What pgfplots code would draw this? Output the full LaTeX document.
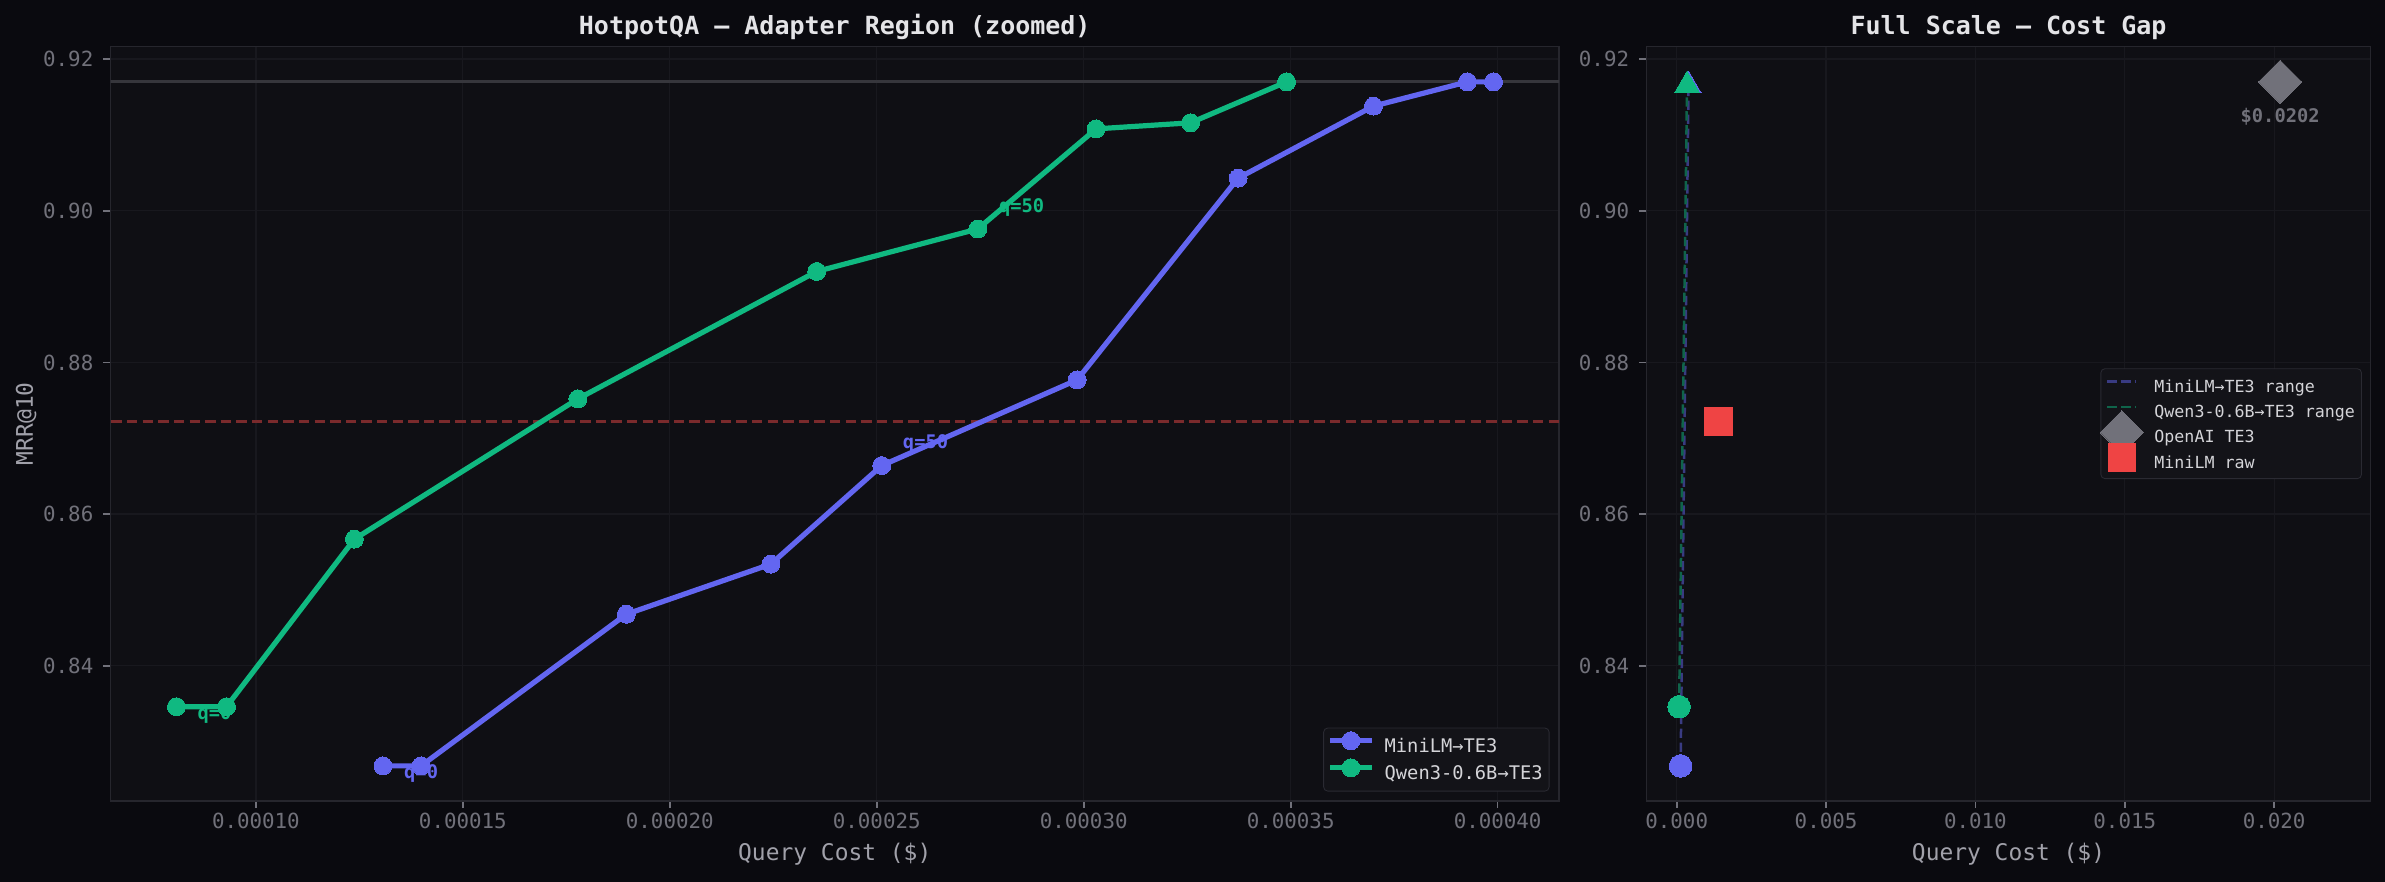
\documentclass[border=0pt]{standalone}
\usepackage{pgfplots}
\pgfplotsset{compat=1.18}
\usepackage{fontspec}
\setmainfont{DejaVu Sans Mono}
\definecolor{figbg}{HTML}{0A0A0F}
\definecolor{axbg}{HTML}{0F0F14}
\definecolor{gridc}{HTML}{18181E}
\definecolor{spine}{HTML}{26262D}
\definecolor{tickc}{HTML}{71717A}
\definecolor{labc}{HTML}{A1A1AA}
\definecolor{titc}{HTML}{E4E4E7}
\definecolor{indigo}{HTML}{6366F1}
\definecolor{emerald}{HTML}{10B981}
\definecolor{redc}{HTML}{EF4444}
\definecolor{grayd}{HTML}{71717A}
\definecolor{refline}{HTML}{36363C}
\definecolor{redline}{HTML}{7A2A2C}
\definecolor{indigodim}{HTML}{393B82}
\definecolor{emeralddim}{HTML}{0F644A}
\definecolor{legfill}{HTML}{131318}
\definecolor{legdraw}{HTML}{2A2A32}
\definecolor{legtext}{HTML}{D4D4D8}

\pgfplotsset{
  every axis title shift=0pt,
  darkax/.style={
    scale only axis,
    height=362.2pt,
    anchor=south west,
    ymin=0.82218, ymax=0.92167,
    ytick={0.84,0.86,0.88,0.90,0.92},
    yticklabel style={/pgf/number format/fixed, /pgf/number format/fixed zerofill, /pgf/number format/precision=2},
    scaled x ticks=false, scaled y ticks=false,
    axis background/.style={fill=axbg},
    axis line style={spine, line width=0.8pt},
    tick align=outside,
    xtick pos=bottom, ytick pos=left,
    major tick length=3.5pt,
    tick style={tickc, line width=0.8pt},
    grid=major,
    major grid style={gridc, line width=0.6pt},
    tick label style={font=\fontsize{10}{12}\selectfont, text=tickc},
    /pgf/number format/assume math mode=true,
    xticklabel style={anchor=north, inner sep=0pt, yshift=-2.1pt},
    yticklabel style={anchor=east, inner sep=0pt, xshift=-4.6pt},
    title style={font=\bfseries\fontsize{12}{14}\selectfont, text=titc, at={(0.5,1)}, anchor=base, yshift=5.6pt},
    label style={font=\fontsize{11}{13}\selectfont, text=labc},
    xlabel style={at={(0.5,-0.0704)}, anchor=center},
    legend cell align=left,
  },
}

\begin{document}
\begin{tikzpicture}
\fill[figbg] (0,0) rectangle (1145pt,423.4pt);

% ---------------- left axis ----------------
\begin{axis}[darkax,
  at={(53.1pt,38.9pt)}, width=695.3pt,
  xmin=0.0000649, xmax=0.0004148,
  xtick={0.0001,0.00015,0.0002,0.00025,0.0003,0.00035,0.0004},
  xticklabel style={/pgf/number format/fixed, /pgf/number format/fixed zerofill, /pgf/number format/precision=5},
  title={HotpotQA — Adapter Region (zoomed)},
  xlabel={Query Cost (\$)},
  ylabel={MRR@10},
  ylabel style={at={(-0.0584,0.5)}, anchor=center},
  legend image code/.code={%
    \path[draw=none, fill=none] (0pt,-1pt) rectangle (20pt,6pt);
    \draw[overlay, mark repeat=2, mark phase=2, #1] plot coordinates {(0pt,3.3pt) (10pt,3.3pt) (20pt,3.3pt)};
  },
  legend style={at={(1,0)}, anchor=south east, xshift=-4.5pt, yshift=4.5pt,
    fill=legfill, draw=legdraw, rounded corners=2pt, text=legtext,
    font=\fontsize{9}{10}\selectfont, inner xsep=3.1pt, inner ysep=3.4pt, row sep=2.5pt,
    nodes={inner sep=0pt, text height=6.8pt, text depth=2.2pt},
    /tikz/every odd column/.append style={column sep=6.2pt}},
]
\addplot[refline, line width=1.5pt, forget plot] coordinates {(0.00005,0.917) (0.00045,0.917)};
\addplot[redline, line width=1.2pt, dash pattern=on 5pt off 2.5pt, forget plot] coordinates {(0.00005,0.8722) (0.00045,0.8722)};

\node[anchor=base west, inner sep=0pt, xshift=10pt, yshift=-6pt, text=emerald, font=\bfseries\fontsize{9}{10}\selectfont] at (axis cs:0.0000808,0.8346) {q=0};
\node[anchor=base west, inner sep=0pt, xshift=10pt, yshift=-6pt, text=indigo, font=\bfseries\fontsize{9}{10}\selectfont] at (axis cs:0.0001307,0.8268) {q=0};
\node[anchor=base west, inner sep=0pt, xshift=10pt, yshift=8pt, text=emerald, font=\bfseries\fontsize{9}{10}\selectfont] at (axis cs:0.0002744,0.8976) {q=50};
\node[anchor=base west, inner sep=0pt, xshift=10pt, yshift=8pt, text=indigo, font=\bfseries\fontsize{9}{10}\selectfont] at (axis cs:0.0002512,0.8664) {q=50};

\addplot[indigo, line width=2.5pt, mark=*, mark size=4.3pt, mark options={solid, line width=0pt, fill=indigo, draw=indigo}] coordinates {
(0.0001307,0.8268) (0.0001399,0.8268) (0.0001895,0.8468) (0.0002244,0.8534) (0.0002512,0.8664)
(0.0002984,0.8777) (0.0003373,0.9043) (0.0003700,0.9138) (0.0003927,0.9170) (0.0003990,0.9170)};
\addlegendentry{MiniLM→TE3}
\addplot[emerald, line width=2.5pt, mark=*, mark size=4.3pt, mark options={solid, line width=0pt, fill=emerald, draw=emerald}] coordinates {
(0.0000808,0.8346) (0.0000929,0.8346) (0.0001238,0.8567) (0.0001778,0.8752) (0.0002355,0.8920)
(0.0002744,0.8976) (0.0003030,0.9108) (0.0003258,0.9116) (0.0003490,0.9170)};
\addlegendentry{Qwen3-0.6B→TE3}
\end{axis}

% ---------------- right axis ----------------
\begin{axis}[darkax,
  at={(790.4pt,38.9pt)}, width=347.7pt,
  xmin=-0.001014, xmax=0.02323,
  xtick={0,0.005,0.01,0.015,0.02},
  xticklabel style={/pgf/number format/fixed, /pgf/number format/fixed zerofill, /pgf/number format/precision=3},
  title={Full Scale — Cost Gap},
  xlabel={Query Cost (\$)},
  legend image code/.code={%
    \path[draw=none, fill=none] (0pt,-1pt) rectangle (14pt,6pt);
    \draw[overlay, mark repeat=2, mark phase=2, #1] plot coordinates {(0pt,2.9pt) (7pt,2.9pt) (14pt,2.9pt)};
  },
  legend style={at={(1,0.5)}, anchor=east, xshift=-4.2pt,
    fill=legfill, draw=legdraw, rounded corners=2pt, text=legtext,
    font=\fontsize{8}{9}\selectfont, inner xsep=3.1pt, inner ysep=3.1pt, row sep=2.2pt,
    nodes={inner sep=0pt, text height=6.1pt, text depth=1.9pt},
    /tikz/every odd column/.append style={column sep=8.6pt}},
]
\addplot[indigodim, line width=1.2pt, dash pattern=on 4.5pt off 2.2pt] coordinates {(0.0001307,0.8268) (0.000399,0.917)};
\addlegendentry{MiniLM→TE3 range}
\addplot[emeralddim, line width=1.2pt, dash pattern=on 4.5pt off 2.2pt] coordinates {(0.0000808,0.8346) (0.000349,0.917)};
\addlegendentry{Qwen3-0.6B→TE3 range}
\addplot[only marks, mark=square*, mark size=7.36pt, mark options={rotate=45, fill=grayd, draw=grayd, line width=0pt}] coordinates {(0.0202,0.917)};
\addlegendentry{OpenAI TE3}
\addplot[only marks, mark=square*, mark size=6.65pt, mark options={fill=redc, draw=redc, line width=0pt}] coordinates {(0.0014,0.8722)};
\addlegendentry{MiniLM raw}

\addplot[only marks, forget plot, mark=*, mark size=5.4pt, mark options={fill=indigo, draw=indigo, line width=0pt}] coordinates {(0.0001307,0.8268)};
\addplot[only marks, forget plot, mark=triangle*, mark size=6.9pt, mark options={fill=indigo, draw=indigo, line width=0pt, yshift=-1.7pt}] coordinates {(0.000399,0.917)};
\addplot[only marks, forget plot, mark=*, mark size=5.4pt, mark options={fill=emerald, draw=emerald, line width=0pt}] coordinates {(0.0000808,0.8346)};
\addplot[only marks, forget plot, mark=triangle*, mark size=6.9pt, mark options={fill=emerald, draw=emerald, line width=0pt, yshift=-1.7pt}] coordinates {(0.000349,0.917)};

\node[anchor=base, inner sep=0pt, yshift=-19.4pt, text=grayd, font=\bfseries\fontsize{9}{10}\selectfont] at (axis cs:0.0202,0.917) {\$0.0202};
\end{axis}
\end{tikzpicture}
\end{document}
